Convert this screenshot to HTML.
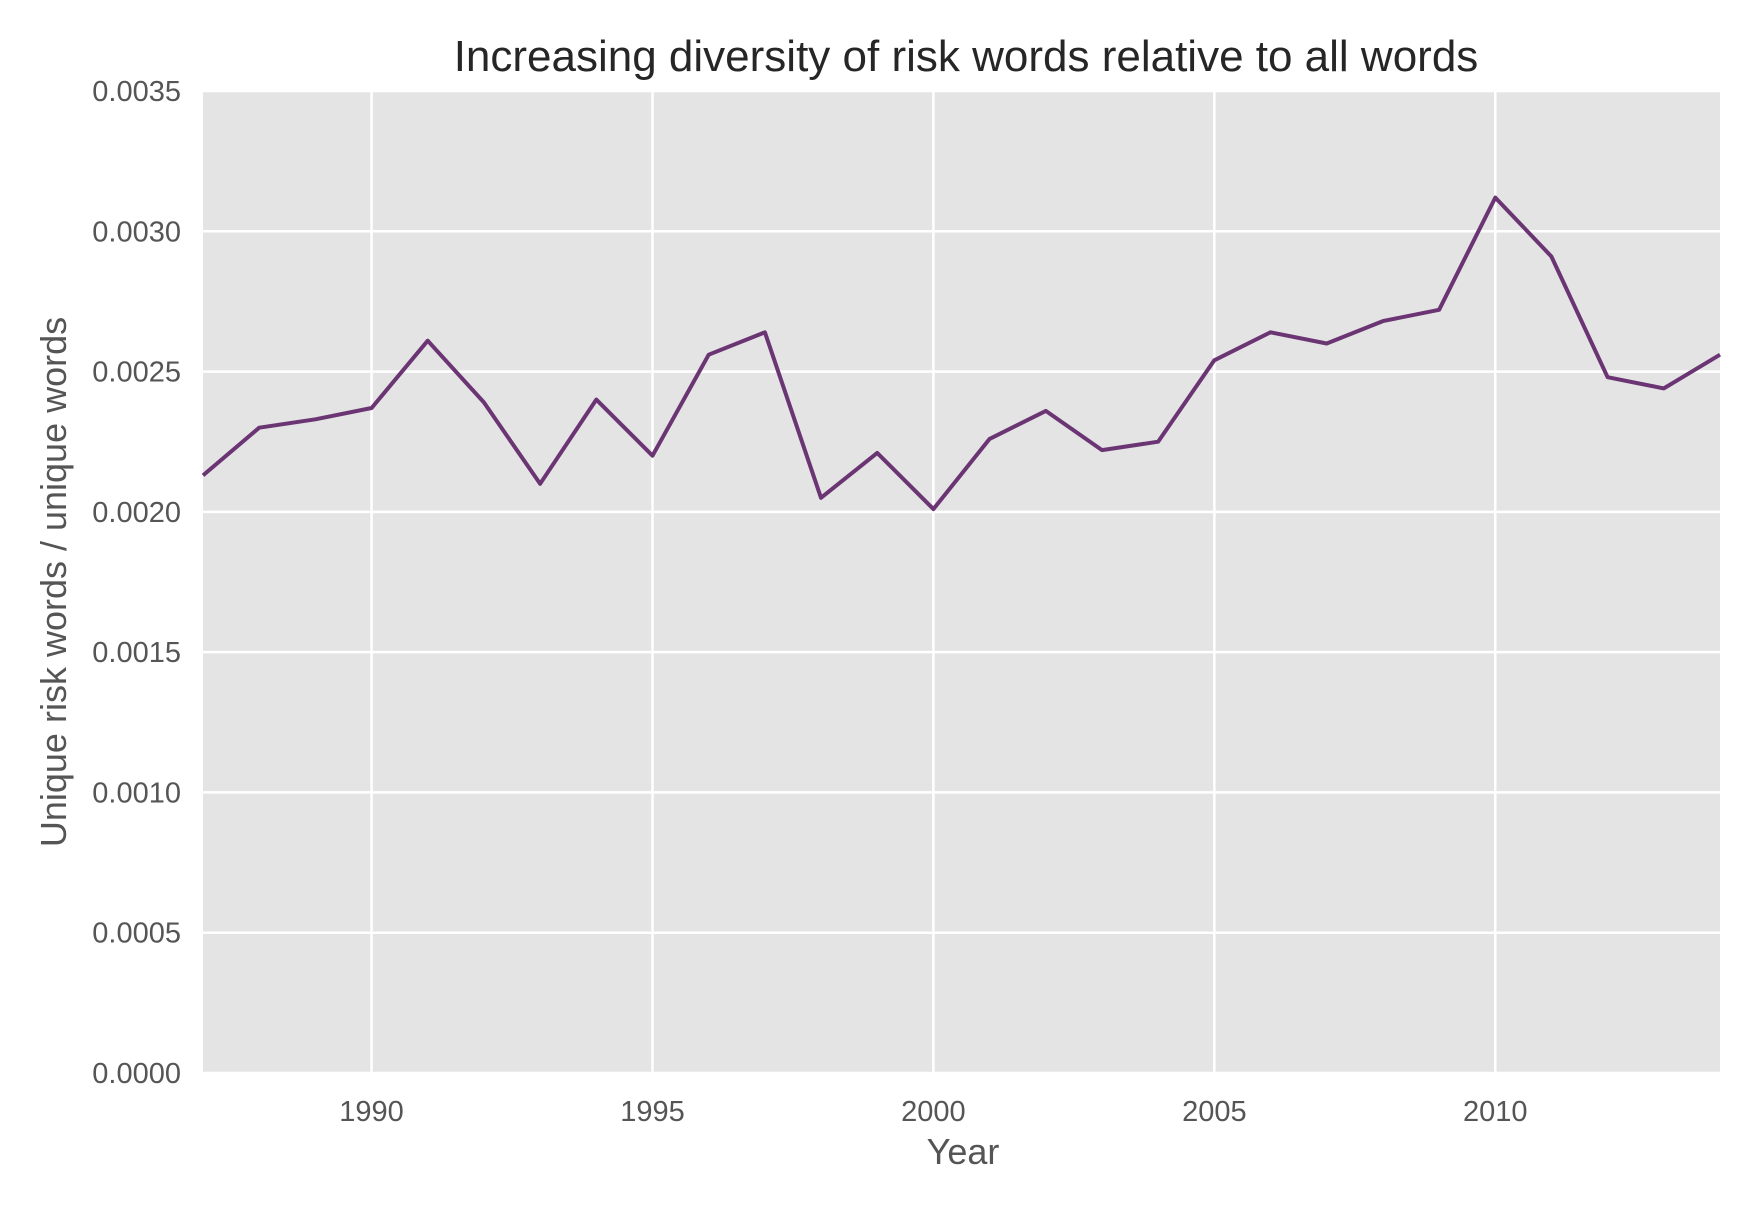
<!DOCTYPE html>
<html><head><meta charset="utf-8"><style>
html,body{margin:0;padding:0;background:#fff;}
svg text{font-family:"Liberation Sans",Arial,sans-serif;}
</style></head><body>
<svg id="chart" width="1760" height="1210" viewBox="0 0 1760 1210" xmlns="http://www.w3.org/2000/svg">
<rect x="203" y="91" width="1517" height="982" fill="#e4e4e4"/>
<g id="grid"></g>
<g id="ticks"></g>
<path id="series" fill="none" stroke="#6b3574" stroke-width="4" stroke-linejoin="round"/>
<text x="966" y="71" font-size="44" fill="#262626" text-anchor="middle">Increasing diversity of risk words relative to all words</text>
<text x="963" y="1164" font-size="36" fill="#555" text-anchor="middle">Year</text>
<text x="0" y="0" font-size="36" fill="#555" text-anchor="middle" transform="translate(66,582) rotate(-90)">Unique risk words / unique words</text>
</svg>
<script>
const years=[1987,1988,1989,1990,1991,1992,1993,1994,1995,1996,1997,1998,1999,2000,2001,2002,2003,2004,2005,2006,2007,2008,2009,2010,2011,2012,2013,2014];
const values=[0.00213,0.00230,0.00233,0.00237,0.00261,0.00239,0.00210,0.00240,0.00220,0.00256,0.00264,0.00205,0.00221,0.00201,0.00226,0.00236,0.00222,0.00225,0.00254,0.00264,0.00260,0.00268,0.00272,0.00312,0.00291,0.00248,0.00244,0.00256];
const xTicks=[1990,1995,2000,2005,2010];
const yTicks=[0,0.0005,0.001,0.0015,0.002,0.0025,0.003,0.0035];
const yTickLabels=["0.0000","0.0005","0.0010","0.0015","0.0020","0.0025","0.0030","0.0035"];
const L=203,R=1720,T=91,B=1073,x0=1987,x1=2014,y0=0,y1=0.0035;
const sx=v=>L+(v-x0)/(x1-x0)*(R-L);
const sy=v=>B-(v-y0)/(y1-y0)*(B-T);
const NS="http://www.w3.org/2000/svg";
const grid=document.getElementById('grid'),ticks=document.getElementById('ticks');
xTicks.forEach(t=>{
 const l=document.createElementNS(NS,'line');
 
 
 l.setAttribute('x1',sx(t));l.setAttribute('x2',sx(t));l.setAttribute('y1',T);l.setAttribute('y2',B);
 l.setAttribute('stroke','#fff');l.setAttribute('stroke-width','2.5');grid.appendChild(l);
 const tx=document.createElementNS(NS,'text');
 
 
 tx.setAttribute('x',sx(t));tx.setAttribute('y',B+48);tx.setAttribute('font-size','29');
 tx.setAttribute('fill','#555');tx.setAttribute('text-anchor','middle');tx.textContent=t;ticks.appendChild(tx);
});
yTicks.forEach((t,i)=>{
 const l=document.createElementNS(NS,'line');
 
 
 l.setAttribute('x1',L);l.setAttribute('x2',R);l.setAttribute('y1',sy(t));l.setAttribute('y2',sy(t));
 l.setAttribute('stroke','#fff');l.setAttribute('stroke-width','2.5');grid.appendChild(l);
 const tx=document.createElementNS(NS,'text');
 
 
 tx.setAttribute('x',L-22);tx.setAttribute('y',sy(t)+10);tx.setAttribute('font-size','29');
 tx.setAttribute('fill','#555');tx.setAttribute('text-anchor','end');tx.textContent=yTickLabels[i];ticks.appendChild(tx);
});
document.getElementById('series').setAttribute('d',years.map((y,i)=>(i?'L':'M')+sx(y).toFixed(1)+','+sy(values[i]).toFixed(1)).join(' '));
</script>
</body></html>
